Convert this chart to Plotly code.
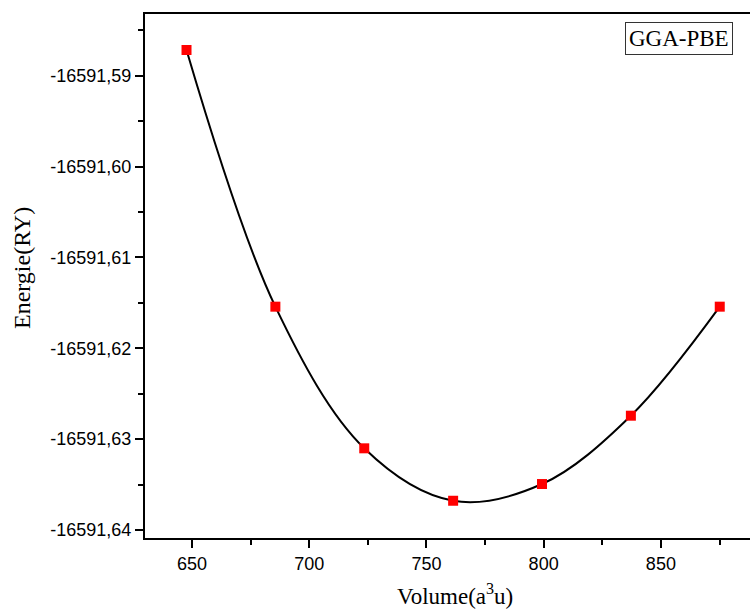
import plotly.graph_objects as go

# Data
volume = [647.7, 685.6, 723.5, 761.4, 799.3, 837.2, 875.1]
energy = [-16591.58717, -16591.61542, -16591.63101, -16591.63678,
          -16591.63494, -16591.62742, -16591.61542]

x_range = [630, 888]
y_range = [-16591.64088, -16591.58321]
x_ticks = [650, 700, 750, 800, 850]
y_ticks = [-16591.59, -16591.60, -16591.61, -16591.62, -16591.63, -16591.64]
y_ticklabels = ["-16591,59", "-16591,60", "-16591,61", "-16591,62", "-16591,63", "-16591,64"]

fig = go.Figure()
fig.add_trace(go.Scatter(
    x=volume, y=energy, mode="lines",
    line=dict(color="black", width=2, shape="spline", smoothing=1.0),
    showlegend=False, hoverinfo="skip"))
fig.add_trace(go.Scatter(
    x=volume, y=energy, mode="markers",
    marker=dict(symbol="square", size=10, color="#ff0000"),
    showlegend=False))

axis_font = dict(family="Liberation Sans, Arial", size=18, color="black")
fig.update_layout(
    width=750, height=610,
    margin=dict(l=145, r=0, t=14, b=72),
    plot_bgcolor="white", paper_bgcolor="white",
    xaxis=dict(range=x_range, tickmode="array", tickvals=x_ticks,
               showline=True, linecolor="black", linewidth=2, mirror=True,
               ticks="outside", ticklen=8, tickwidth=2, tickcolor="black",
               minor=dict(ticks="outside", ticklen=5, tickwidth=2, tickcolor="black", dtick=25, tick0=650),
               showgrid=False, zeroline=False, tickfont=axis_font),
    yaxis=dict(range=y_range, tickmode="array", tickvals=y_ticks, ticktext=y_ticklabels,
               showline=True, linecolor="black", linewidth=2, mirror=False,
               ticks="outside", ticklen=8, tickwidth=2, tickcolor="black",
               minor=dict(ticks="outside", ticklen=5, tickwidth=2, tickcolor="black", dtick=0.005, tick0=-16591.64),
               showgrid=False, zeroline=False, tickfont=axis_font),
    annotations=[
        dict(text="Volume(a<sup>3</sup>u)", xref="paper", yref="paper",
             x=(455 - 145) / 605, y=(538 - 594) / 524, xanchor="center", yanchor="middle",
             showarrow=False, font=dict(family="Liberation Serif, Times New Roman", size=23, color="black")),
        dict(text="Energie(RY)", xref="paper", yref="paper", textangle=-90,
             x=(22 - 145) / 605, y=(538 - 268) / 524, xanchor="center", yanchor="middle",
             showarrow=False, font=dict(family="Liberation Serif, Times New Roman", size=24, color="black")),
        dict(text="GGA-PBE", xref="paper", yref="paper",
             x=(678.8 - 145) / 605, y=(538 - 38.9) / 524, xanchor="center", yanchor="middle",
             showarrow=False, bordercolor="#333333", borderwidth=1, borderpad=3,
             bgcolor="white",
             font=dict(family="Liberation Serif, Times New Roman", size=23, color="black")),
    ],
)

fig.write_html("out.html")
